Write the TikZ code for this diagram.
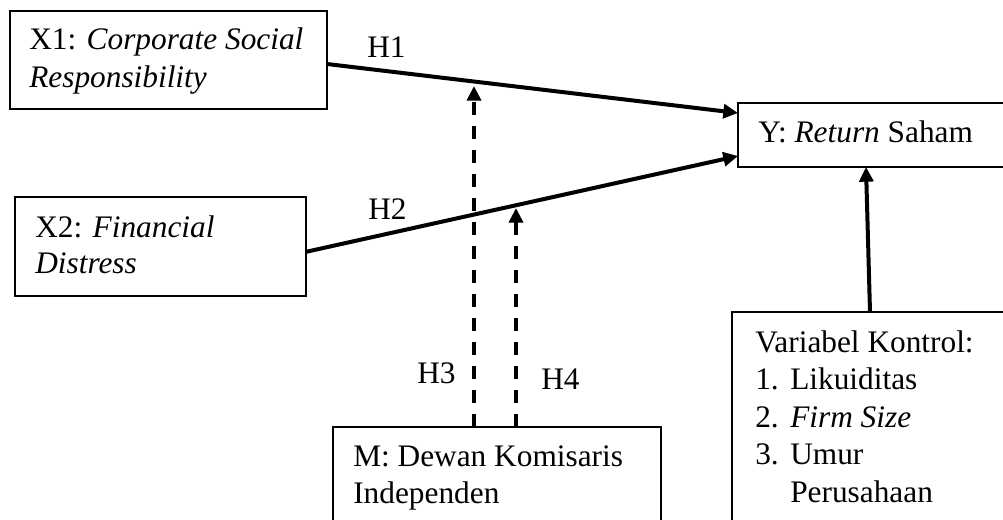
\documentclass[tikz,border=0pt]{standalone}
\usepackage{fontspec}
\setmainfont{Liberation Serif}
\usetikzlibrary{arrows.meta,calc}
\tikzset{
  boxnode/.style={draw, line width=1pt, rectangle, inner sep=0pt, outer sep=0pt, anchor=north west},
  txt/.style={anchor=base west, inner sep=0pt, align=left, font=\fontsize{23.5}{28.5}\selectfont},
  lbl/.style={anchor=base west, inner sep=0pt, font=\fontsize{23.5}{28.5}\selectfont},
  arr/.style={line width=3pt, -{Triangle[length=11pt,width=10.5pt]}},
  darr/.style={arr, dash pattern=on 9.75pt off 8.25pt}
}
\begin{document}
\begin{tikzpicture}[x=0.75pt,y=-0.75pt]
\useasboundingbox (0,0) rectangle (1003,520);
\clip (0,0) rectangle (1003,520);
% boxes
\node[boxnode, minimum width=237.75pt, minimum height=73.5pt] (x1) at (10,11) {};
\node[boxnode, minimum width=218.25pt, minimum height=74.25pt] (x2) at (15,197) {};
\node[boxnode, minimum width=204pt, minimum height=48pt] (y) at (738,103) {};
\node[boxnode, minimum width=246pt, minimum height=77.25pt] (m) at (333,427) {};
\node[boxnode, minimum width=208.5pt, minimum height=163.5pt] (ctrl) at (732,312) {};
% texts (base anchor = baseline of last line)
\node[txt] (tx1) at (29,88) {X1: \textit{Corporate Social}\\\textit{Responsibility}};
\node[txt, font=\fontsize{23.5}{27.3}\selectfont] (tx2) at (35,274) {X2: \textit{Financial}\\\textit{Distress}};
\node[txt] (ty) at (758,143) {Y: \textit{Return} Saham};
\node[txt, font=\fontsize{23.5}{27.3}\selectfont] (tm) at (353,503) {M: Dewan Komisaris\\Independen};
\node[txt, font=\fontsize{23.5}{28.1}\selectfont] (tc) at (755,502) {Variabel Kontrol:\\
\makebox[26.25pt][l]{1.}Likuiditas\\
\makebox[26.25pt][l]{2.}\textit{Firm Size}\\
\makebox[26.25pt][l]{3.}Umur\\
\hspace*{26.25pt}Perusahaan};
% labels
\node[lbl] (h1) at (367,58) {H1};
\node[lbl] (h2) at (368,220) {H2};
\node[lbl] (h3) at (417,383) {H3};
\node[lbl] (h4) at (541,389) {H4};
% free ends of moderating arrows
\coordinate (h3t) at (474,86);
\coordinate (h4t) at (516,208);
% connectors
\draw[arr] ([yshift=-3pt]x1.east) -- ([yshift=16.5pt]y.west);
\draw[arr] ([yshift=-4pt]x2.east) -- ([yshift=-15.75pt]y.west);
\draw[darr] ([xshift=105.75pt]m.north west) -- (h3t);
\draw[darr] ([xshift=137.25pt]m.north west) -- (h4t);
\draw[arr] ([xshift=103.5pt]ctrl.north west) -- ([xshift=96pt]y.south west);
\end{tikzpicture}
\end{document}
